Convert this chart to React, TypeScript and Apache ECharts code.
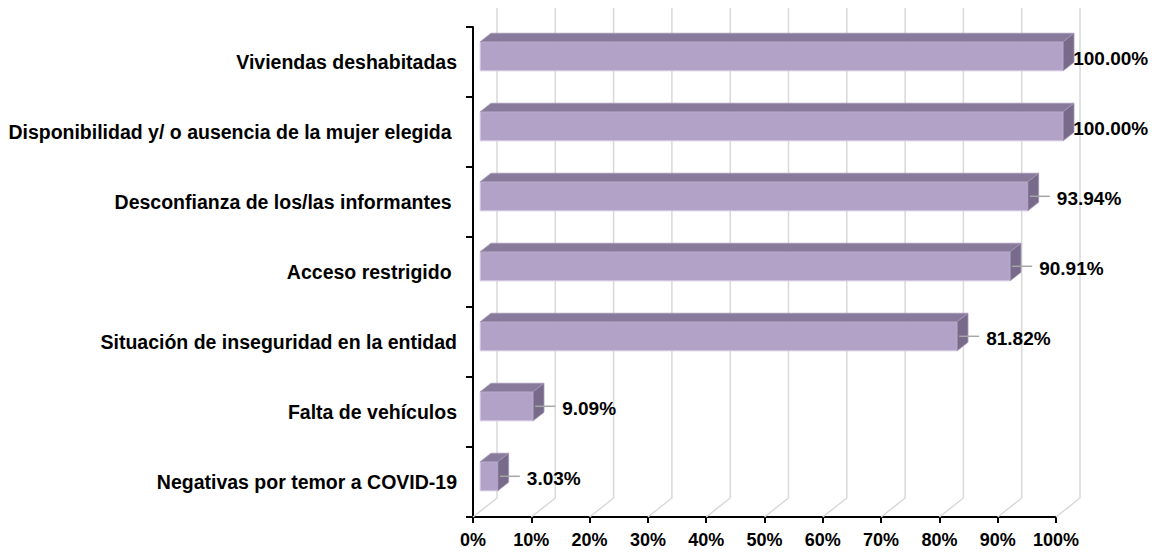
import React, { useEffect, useRef } from "react";
import * as echarts from "echarts";

const categories = [
  "Viviendas deshabitadas",
  "Disponibilidad y/ o ausencia de la mujer elegida ",
  "Desconfianza de los/las informantes ",
  "Acceso restrigido ",
  "Situación de inseguridad en la entidad",
  "Falta de vehículos",
  "Negativas por temor a COVID-19",
];
const values = [100, 100, 93.94, 90.91, 81.82, 9.09, 3.03];
const xTicks = [0, 10, 20, 30, 40, 50, 60, 70, 80, 90, 100];

const DX = 24;
const DY = -19;
const FONT = "'Liberation Sans', Arial, sans-serif";

export default function App() {
  const ref = useRef<HTMLDivElement>(null);
  useEffect(() => {
    if (!ref.current) return;
    const chart = echarts.init(ref.current, null, { renderer: "svg" });
    const option: any = {
      animation: false,
      backgroundColor: "#ffffff",
      grid: { left: 473, right: 102, top: 27, bottom: 35 },
      xAxis: {
        type: "value",
        min: 0,
        max: 100,
        interval: 10,
        splitLine: { show: false },
        axisLine: { show: true, lineStyle: { color: "#000", width: 2 } },
        axisTick: { show: true, length: 6, lineStyle: { color: "#000", width: 2 } },
        axisLabel: {
          formatter: "{value}%",
          color: "#000",
          fontFamily: FONT,
          fontWeight: "bold",
          fontSize: 18,
          margin: 14,
        },
      },
      yAxis: {
        type: "category",
        data: categories,
        inverse: true,
        axisLine: { show: true, lineStyle: { color: "#000", width: 2 } },
        axisTick: { show: true, length: 7, lineStyle: { color: "#000", width: 2 } },
        axisLabel: {
          interval: 0,
          color: "#000",
          fontFamily: FONT,
          fontWeight: "bold",
          fontSize: 19.5,
          margin: 16,
          formatter: (s: string) => s.replace(/ $/, "\u00a0"),
        },
      },
      series: [
        {
          type: "custom",
          name: "grid3d",
          clip: false,
          silent: true,
          z: 1,
          encode: { x: 0, y: 1 },
          data: xTicks.map((t) => [t, 0]),
          renderItem: (params: any, api: any) => {
            const cs = params.coordSys;
            const x = api.coord([api.value(0), 0])[0];
            const bottom = cs.y + cs.height;
            const top = cs.y;
            return {
              type: "polyline",
              shape: {
                points: [
                  [x, bottom],
                  [x + DX, bottom + DY],
                  [x + DX, top + DY],
                ],
              },
              style: { stroke: "#d9d9d9", lineWidth: 1.5, fill: null },
            };
          },
        },
        {
          type: "custom",
          name: "bars",
          clip: false,
          z: 3,
          encode: { x: 0, y: 1 },
          data: values.map((v, i) => [v, i]),
          renderItem: (params: any, api: any) => {
            const v = api.value(0);
            const idx = api.value(1);
            const p0 = api.coord([0, idx]);
            const p1 = api.coord([v, idx]);
            const band = api.size([0, 1])[1];
            const h = band * 0.415;
            const fx = DX * 0.3;
            const fy = DY * 0.3;
            const bx = DX * 0.45;
            const by = DY * 0.45;
            const x0 = p0[0] + fx;
            const x1 = p1[0] + fx;
            const cy = p0[1] + fy;
            const top = cy - h / 2;
            const bot = cy + h / 2;
            const label = v.toFixed(2) + "%";
            const children: any[] = [
              {
                type: "rect",
                shape: { x: x0, y: top, width: x1 - x0, height: h },
                style: { fill: "#b3a2c7", stroke: "#d3c8e0", lineWidth: 1 },
              },
              {
                type: "polygon",
                shape: {
                  points: [
                    [x0, top],
                    [x1, top],
                    [x1 + bx, top + by],
                    [x0 + bx, top + by],
                  ],
                },
                style: { fill: "#877a9a", stroke: "#a497b6", lineWidth: 0.8 },
              },
              {
                type: "polygon",
                shape: {
                  points: [
                    [x1, top],
                    [x1 + bx, top + by],
                    [x1 + bx, bot + by],
                    [x1, bot],
                  ],
                },
                style: { fill: "#776a8b", stroke: "#a497b6", lineWidth: 0.8 },
              },
            ];
            if (v < 100) {
              children.push({
                type: "line",
                shape: { x1: x1 + 2, y1: cy, x2: x1 + 22, y2: cy },
                style: { stroke: "#a6a6a6", lineWidth: 1.5 },
              });
              children.push({
                type: "text",
                style: {
                  x: x1 + 29,
                  y: cy + 2.5,
                  text: label,
                  fill: "#000",
                  font: `bold 19px ${FONT}`,
                  verticalAlign: "middle",
                  align: "left",
                },
              });
            } else {
              children.push({
                type: "text",
                style: {
                  x: x1 + 10,
                  y: cy + 2.5,
                  text: label,
                  fill: "#000",
                  font: `bold 19px ${FONT}`,
                  verticalAlign: "middle",
                  align: "left",
                },
              });
            }
            return { type: "group", children };
          },
        },
      ],
    };
    chart.setOption(option);
    return () => chart.dispose();
  }, []);
  return (
    <div
      ref={ref}
      style={{ position: "fixed", left: 0, top: 0, width: 1158, height: 552 }}
    />
  );
}
